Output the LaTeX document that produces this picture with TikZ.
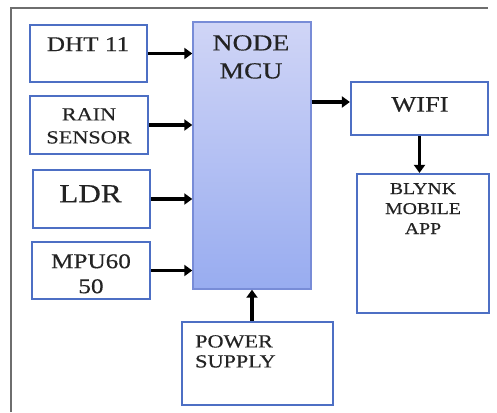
\documentclass[tikz,border=0pt]{standalone}
\usepackage{fontspec}
\setmainfont{Liberation Serif}[FakeStretch=1.2,FakeBold=0.4]
\usetikzlibrary{arrows.meta}
\definecolor{boxblue}{RGB}{77,111,196}
\definecolor{mcuedge}{RGB}{120,140,215}
\definecolor{mcutop}{RGB}{208,213,246}
\definecolor{mcubot}{RGB}{152,172,240}
\definecolor{txt}{RGB}{35,35,35}
\definecolor{frame}{RGB}{110,110,110}
\newcommand{\fs}[2]{\fontsize{#1}{#2}\selectfont}
\tikzset{
  blk/.style={draw=boxblue, line width=2.2pt, fill=white, inner sep=0pt},
  lbl/.style={text=txt, inner sep=0pt, align=center, anchor=north},
  arr/.style={line width=3.8pt, -{Triangle[length=8pt,width=11pt]}},
}
\begin{document}
\begin{tikzpicture}[x=1pt,y=-1pt]
\useasboundingbox (0,0) rectangle (497,412);
\fill[white] (0,0) rectangle (497,412);
\draw[frame, line width=1.6pt] (11,412) -- (11,8) -- (488,8);

\node[blk, minimum width=117pt, minimum height=57pt] (dht) at (88.5,53.5) {};
\node[blk, minimum width=118pt, minimum height=58pt] (rain) at (89,125) {};
\node[blk, minimum width=117pt, minimum height=58pt] (ldr) at (91.5,199) {};
\node[blk, minimum width=118pt, minimum height=57pt] (mpu) at (91,270.5) {};
\node[draw=mcuedge, line width=1.4pt, top color=mcutop, bottom color=mcubot,
      minimum width=118pt, minimum height=267pt, inner sep=0pt] (mcu) at (252,155.5) {};
\node[blk, minimum width=137pt, minimum height=53pt] (wifi) at (419.5,108.5) {};
\node[blk, minimum width=132pt, minimum height=139pt] (blynk) at (423,243.5) {};
\node[blk, minimum width=151pt, minimum height=83pt] (power) at (257.5,363.5) {};

\node[lbl, font=\fs{21}{24}] (dhtT) at (88,37) {DHT 11};
\node[lbl, font=\fs{18.5}{23}] (rainT) at (89,108) {RAIN\\SENSOR};
\node[lbl, font=\fs{26}{30}] (ldrT) at (90.5,185) {LDR};
\node[lbl, font=\fs{21}{25}] (mpuT) at (91,254) {MPU60\\50};
\node[lbl, font=\fs{23}{28}] (mcuT) at (251,35) {NODE\\MCU};
\node[lbl, font=\fs{22}{26}] (wifiT) at (420,97) {WIFI};
\node[lbl, font=\fs{16.5}{20}] (blynkT) at (423,183) {BLYNK\\MOBILE\\APP};
\node[lbl, font=\fs{18.5}{20}, anchor=north west, align=left] (powerT) at (195,335) {POWER\\SUPPLY};

\coordinate (wifiIn) at ([yshift=6.5pt]wifi.west);
\draw[arr] (dht.east) -- (mcu.west |- dht.east);
\draw[arr] (rain.east) -- (mcu.west |- rain.east);
\draw[arr] (ldr.east) -- (mcu.west |- ldr.east);
\draw[arr] (mpu.east) -- (mcu.west |- mpu.east);
\draw[arr] (mcu.east |- wifiIn) -- (wifiIn);
\draw[arr] (wifi.south) -- (wifi.south |- blynk.north);
\draw[arr] (mcu.south |- power.north) -- (mcu.south);
\end{tikzpicture}
\end{document}
